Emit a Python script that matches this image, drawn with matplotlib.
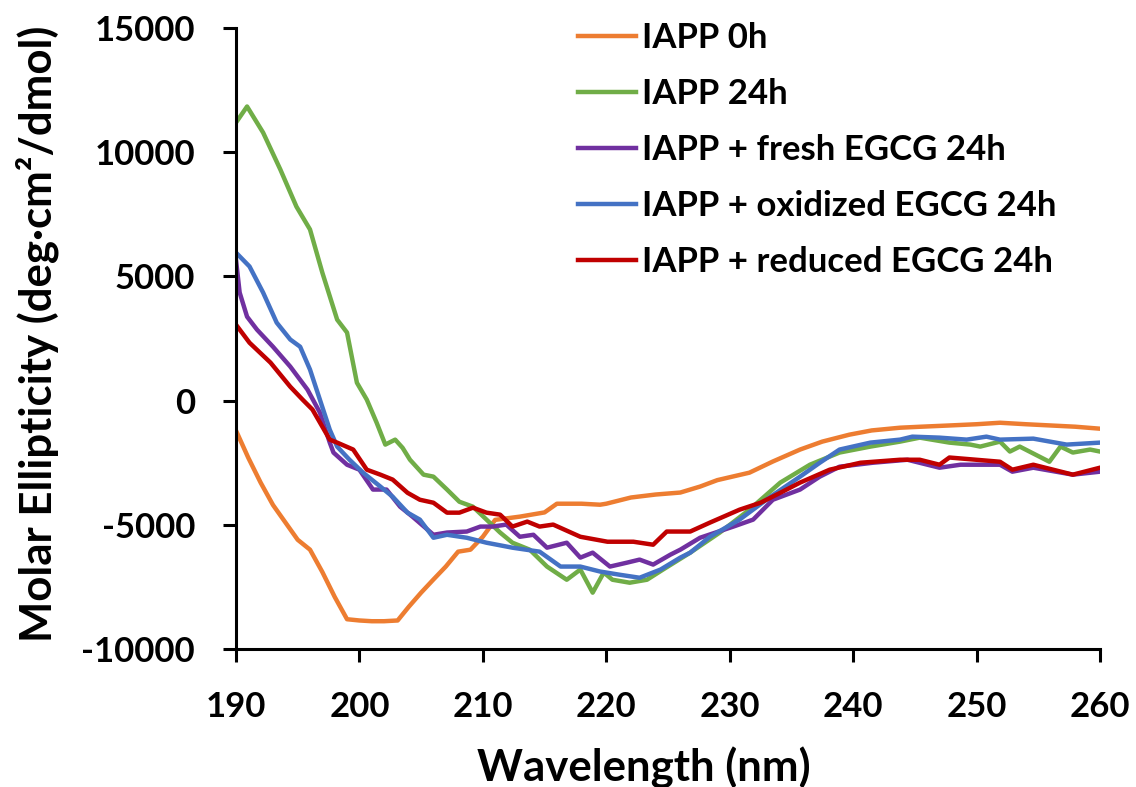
import matplotlib
matplotlib.use('Agg')
import matplotlib.pyplot as plt

FONT = 'Lato'
TICK_SIZE = 25
LABEL_SIZE = 31.5
LEGEND_SIZE = 25

labels = ['IAPP 0h', 'IAPP 24h', 'IAPP + fresh EGCG 24h',
          'IAPP + oxidized EGCG 24h', 'IAPP + reduced EGCG 24h']
colors = ['#ED7D31', '#70AD47', '#7030A0', '#4472C4', '#C00000']

# IAPP 0h
wl_0h = [190.0, 191.0, 192.0, 193.0, 194.0, 195.0, 196.0, 197.0, 198.0, 199.0,
         200.0, 201.0, 202.0, 203.1, 204.0, 205.0, 206.0, 207.0, 208.0, 209.0,
         210.0, 211.0, 213.0, 215.0, 216.0, 218.0, 219.5, 220.0, 222.0, 224.0,
         226.0, 227.6, 229.0, 231.6, 233.5, 235.7, 237.5, 239.7, 241.5, 243.8,
         245.5, 247.8, 250.0, 251.9, 254.0, 256.0, 258.0, 260.0]
mre_0h = [-1200, -2300, -3300, -4200, -4900, -5600, -6000, -6900, -7900, -8800,
          -8850, -8880, -8880, -8850, -8300, -7730, -7200, -6680, -6080, -6000,
          -5480, -4800, -4670, -4500, -4150, -4150, -4190, -4150, -3900, -3780,
          -3700, -3460, -3200, -2900, -2450, -1970, -1650, -1370, -1200, -1090,
          -1050, -1000, -950, -890, -950, -1000, -1050, -1130]

# IAPP 24h
wl_24h = [190.0, 190.9, 192.2, 193.6, 194.9, 196.0, 197.0, 198.2, 199.0, 199.8,
          200.6, 201.4, 202.1, 202.9, 203.5, 204.1, 205.2, 206.0, 207.1, 208.1,
          209.2, 210.3, 211.4, 212.4, 213.8, 215.2, 216.8, 217.9, 218.9, 219.8,
          220.5, 221.9, 223.3, 224.6, 226.8, 229.2, 231.6, 234.1, 236.5, 238.9,
          241.4, 243.8, 245.4, 247.8, 249.5, 250.3, 251.9, 252.7, 253.5, 255.9,
          256.8, 257.8, 259.2, 260.0]
mre_24h = [11190, 11840, 10790, 9300, 7810, 6890, 5150, 3260, 2740, 720,
           40, -890, -1770, -1570, -1900, -2380, -2980, -3060, -3580, -4070,
           -4270, -4790, -5310, -5720, -6000, -6680, -7210, -6800, -7730, -6920,
           -7210, -7330, -7210, -6800, -6120, -5310, -4390, -3300, -2580, -2090,
           -1850, -1650, -1490, -1690, -1770, -1850, -1650, -2050, -1850, -2460,
           -1850, -2090, -1970, -2050]

# IAPP + fresh EGCG 24h
wl_fresh = [190.0, 190.3, 190.9, 191.7, 193.0, 194.4, 195.8, 196.8, 197.6, 197.9,
            199.0, 200.0, 201.1, 202.2, 203.3, 204.3, 206.0, 207.1, 208.7, 209.8,
            210.8, 211.9, 213.0, 214.1, 215.2, 216.8, 217.9, 218.9, 220.3, 221.7,
            222.7, 223.8, 225.2, 226.0, 227.6, 230.3, 231.9, 233.5, 235.7, 237.3,
            238.9, 241.6, 244.4, 247.0, 248.7, 251.9, 252.9, 254.6, 257.8, 260.0]
mre_fresh = [5680, 4350, 3380, 2860, 2170, 1370, 440, -480, -1690, -2090,
             -2580, -2780, -3580, -3580, -4270, -4670, -5400, -5310, -5270, -5070,
             -5070, -4990, -5480, -5400, -5920, -5720, -6320, -6120, -6680, -6520,
             -6400, -6600, -6200, -6000, -5520, -5070, -4790, -3990, -3580, -3060,
             -2660, -2500, -2380, -2700, -2580, -2580, -2860, -2700, -2980, -2860]

# IAPP + oxidized EGCG 24h
wl_ox = [190.0, 191.1, 192.2, 193.3, 194.4, 195.2, 196.0, 196.8, 197.6, 198.2,
         199.2, 200.3, 201.7, 202.7, 203.9, 204.9, 206.0, 207.1, 208.7, 210.3,
         212.4, 214.6, 216.3, 217.9, 219.5, 221.1, 222.7, 224.4, 226.0, 226.8,
         228.4, 230.8, 233.3, 235.7, 237.3, 238.9, 241.4, 243.8, 244.8, 247.0,
         249.2, 250.8, 251.9, 254.6, 257.3, 260.0]
mre_ox = [5960, 5400, 4350, 3140, 2460, 2170, 1250, 40, -1170, -1850,
          -2380, -2900, -3460, -3870, -4510, -4790, -5520, -5400, -5520, -5720,
          -5920, -6080, -6680, -6680, -6880, -7010, -7130, -6800, -6320, -6120,
          -5480, -4790, -3870, -3060, -2500, -1970, -1690, -1570, -1450, -1490,
          -1570, -1450, -1570, -1530, -1770, -1690]

# IAPP + reduced EGCG 24h
wl_red = [190.0, 191.1, 192.8, 194.4, 195.4, 196.2, 197.0, 197.6, 198.2, 199.5,
          200.6, 201.7, 202.7, 203.9, 204.9, 206.0, 207.1, 208.1, 209.2, 210.3,
          211.4, 212.4, 213.6, 214.6, 215.7, 217.9, 220.1, 222.2, 223.8, 224.9,
          226.8, 228.4, 230.8, 232.5, 234.1, 235.7, 238.1, 240.6, 243.8, 245.4,
          247.0, 247.8, 251.9, 252.9, 254.6, 257.8, 260.0]
mre_red = [3060, 2330, 1530, 560, 40, -360, -1050, -1570, -1690, -1970,
           -2780, -2980, -3180, -3710, -3990, -4110, -4510, -4510, -4310, -4510,
           -4590, -5070, -4870, -5070, -4990, -5480, -5680, -5680, -5800, -5270,
           -5270, -4910, -4390, -4110, -3710, -3300, -2780, -2500, -2380, -2380,
           -2580, -2290, -2460, -2780, -2580, -2980, -2700]

series = [(wl_0h, mre_0h), (wl_24h, mre_24h), (wl_fresh, mre_fresh),
          (wl_ox, mre_ox), (wl_red, mre_red)]

plt.rcParams['font.family'] = [FONT, 'DejaVu Sans']
plt.rcParams['font.weight'] = 'bold'
plt.rcParams['axes.unicode_minus'] = False

fig = plt.figure(figsize=(11.36, 7.87), dpi=100)
ax = fig.add_axes([0.2077, 0.1753, 0.9683 - 0.2077, 0.9644 - 0.1753])

for (x, y), label, color in zip(series, labels, colors):
    ax.plot(x, y, color=color, lw=3.2, label=label, solid_joinstyle='round')

ax.set_xlim(190, 260)
ax.set_ylim(-10000, 15000)
ax.set_xticks(range(190, 261, 10))
ax.set_yticks(range(-10000, 15001, 5000))

for side in ('top', 'right'):
    ax.spines[side].set_visible(False)
for side in ('left', 'bottom'):
    ax.spines[side].set_linewidth(2.2)

ax.tick_params(direction='out', length=9.5, width=2.2, labelsize=TICK_SIZE)
ax.tick_params(axis='x', pad=21)
ax.tick_params(axis='y', pad=20)
for lbl in ax.get_xticklabels() + ax.get_yticklabels():
    lbl.set_fontweight('bold')

ax.set_xlabel('Wavelength (nm)', fontsize=LABEL_SIZE, fontweight='bold')
ax.set_ylabel('Molar Ellipticity (deg\u00b7cm\u00b2/dmol)', fontsize=LABEL_SIZE,
              fontweight='bold')
ax.xaxis.set_label_coords(0.472, -0.157)
ax.yaxis.set_label_coords(-0.205, 0.507)

ax.legend(loc='upper left', bbox_to_anchor=(0.509, 0.972), bbox_transform=fig.transFigure,
          frameon=False, fontsize=LEGEND_SIZE, handlelength=1.65, handletextpad=0.2,
          labelspacing=0.69, borderpad=0, borderaxespad=0)

fig.savefig('out.png', dpi=100)
